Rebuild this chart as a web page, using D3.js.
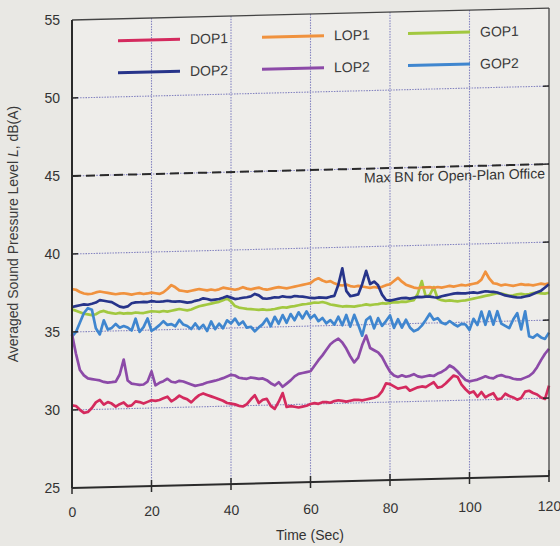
<!DOCTYPE html>
<html>
<head>
<meta charset="utf-8">
<script src="https://cdn.jsdelivr.net/npm/d3@7"></script>
<style>
  html, body { margin: 0; padding: 0; background: #e9e8e4; }
  svg { display: block; font-family: "Liberation Sans", Arial, sans-serif; }
</style>
</head>
<body>
<div id="chart"></div>
<script>
// one sample per second, 0..120 s
const seconds = d3.range(0, 121);

const dop1 = [
  30.3, 30.25, 30.0, 29.8, 29.85, 30.1, 30.45, 30.6, 30.3, 30.45,
  30.35, 30.15, 30.3, 30.4, 30.15, 30.2, 30.45, 30.4, 30.3, 30.4,
  30.5, 30.45, 30.5, 30.6, 30.7, 30.4, 30.55, 30.75, 30.6, 30.5,
  30.3, 30.55, 30.75, 30.85, 30.75, 30.65, 30.55, 30.45, 30.35, 30.2,
  30.15, 30.1, 30.0, 29.95, 30.1, 30.4, 30.65, 30.15, 30.35, 30.4,
  29.95, 29.75, 30.2, 30.75, 29.85, 29.9, 29.85, 29.8, 29.85, 29.9,
  30.0, 30.05, 30.0, 30.1, 30.1, 30.05, 30.15, 30.2, 30.15, 30.1,
  30.15, 30.2, 30.2, 30.15, 30.2, 30.25, 30.3, 30.4, 30.7, 31.2,
  31.15, 31.0, 30.85, 30.9, 30.95, 30.7, 30.8, 30.9, 30.95, 30.9,
  31.05, 31.2, 30.85, 30.9, 31.1, 31.35, 31.6, 31.5, 31.0, 30.7,
  30.45, 30.55, 30.2, 30.5, 30.15, 30.3, 30.4, 30.0, 30.05, 30.35,
  30.2, 30.1, 29.95, 30.05, 30.45, 30.5, 30.35, 30.25, 30.05, 29.95,
  30.8
];
const dop2 = [
  36.6, 36.65, 36.7, 36.75, 36.72, 36.78, 36.85, 37.0, 36.95, 36.9,
  36.85, 36.7, 36.55, 36.5, 36.55, 36.75, 36.8, 36.8, 36.82, 36.8,
  36.85, 36.82, 36.8, 36.82, 36.85, 36.8, 36.78, 36.8, 36.75, 36.7,
  36.72, 36.8, 36.85, 36.95, 36.9, 36.82, 36.85, 36.88, 36.95, 37.05,
  36.95, 36.85, 36.88, 36.92, 36.95, 37.0, 37.15, 37.05, 36.85, 36.82,
  36.85, 36.9, 36.88, 36.95, 36.9, 36.88, 36.95, 36.92, 36.9, 36.85,
  36.8, 36.78, 36.82, 36.8, 36.78, 36.85, 36.9, 37.6, 38.65, 37.2,
  36.85, 36.9, 36.95, 37.6, 38.45, 37.6, 37.75, 37.5, 36.9, 36.55,
  36.5, 36.55, 36.6, 36.65, 36.65, 36.6, 36.65, 36.7, 36.68, 36.7,
  36.7, 36.65, 36.62, 36.7, 36.75, 36.8, 36.85, 36.88, 36.85, 36.85,
  36.88, 36.9, 36.85, 36.9, 36.95, 36.92, 36.9, 36.85, 36.75, 36.65,
  36.6, 36.55, 36.5, 36.5, 36.55, 36.6, 36.7, 36.8, 36.9, 37.1,
  37.3
];
const lop1 = [
  37.75, 37.7, 37.55, 37.45, 37.4, 37.42, 37.5, 37.55, 37.5, 37.45,
  37.4, 37.35, 37.38, 37.4, 37.35, 37.3, 37.35, 37.38, 37.32, 37.35,
  37.4, 37.35, 37.3, 37.4, 37.6, 37.85, 37.7, 37.5, 37.45, 37.4,
  37.45, 37.5, 37.55, 37.5, 37.45, 37.5, 37.45, 37.5, 37.6, 37.55,
  37.5, 37.45, 37.5, 37.6, 37.5, 37.45, 37.5, 37.55, 37.45, 37.4,
  37.45, 37.5, 37.55, 37.5, 37.45, 37.5, 37.55, 37.6, 37.65, 37.7,
  37.75, 37.95, 38.05, 37.9, 37.8, 37.85, 37.7, 37.6, 37.55, 37.6,
  37.5, 37.45, 37.5, 37.45, 37.4, 37.35, 37.4, 37.35, 37.4, 37.5,
  37.55, 37.75, 37.95, 37.7, 37.5, 37.4, 37.3, 37.25, 37.3, 37.3,
  37.3, 37.25, 37.3, 37.25, 37.3, 37.35, 37.3, 37.35, 37.4, 37.35,
  37.4, 37.45, 37.5, 37.7, 38.2, 37.75, 37.45, 37.4, 37.3, 37.35,
  37.3, 37.25, 37.3, 37.35, 37.3, 37.3, 37.25, 37.3, 37.35, 37.3,
  37.35
];
const lop2 = [
  34.85, 33.6, 32.55, 32.2, 32.0, 31.95, 31.9, 31.85, 31.75, 31.7,
  31.72, 31.75, 32.2, 33.15, 31.8, 31.6, 31.55, 31.5, 31.52, 31.7,
  32.35, 31.45, 31.6, 31.7, 31.85, 31.65, 31.6, 31.7, 31.65, 31.55,
  31.45, 31.35, 31.4, 31.45, 31.55, 31.6, 31.65, 31.72, 31.8, 31.9,
  32.0, 31.95, 31.8, 31.75, 31.72, 31.8, 31.75, 31.7, 31.72, 31.6,
  31.4, 31.25, 31.45, 31.15, 31.35, 31.55, 31.8, 31.95, 32.0, 32.05,
  32.1, 32.45, 32.8, 33.1, 33.45, 33.8, 34.0, 34.15, 33.9, 33.5,
  33.0, 32.6, 32.9, 33.7, 34.3, 33.5, 33.35, 33.2, 32.9, 32.4,
  31.95, 31.7, 31.6, 31.7, 31.6, 31.65, 31.75, 31.6, 31.55, 31.6,
  31.65, 31.6, 31.75, 31.85, 32.0, 32.25, 32.1, 31.85, 31.55, 31.3,
  31.2, 31.25, 31.3, 31.4, 31.5, 31.4, 31.35, 31.5, 31.55, 31.45,
  31.4, 31.3, 31.25, 31.25, 31.35, 31.45, 31.65, 32.0, 32.45, 32.85,
  33.15
];
const gop1 = [
  36.45, 36.35, 36.25, 36.15, 36.1, 36.05, 36.1, 36.25, 36.3, 36.2,
  36.15, 36.1, 36.15, 36.1, 36.12, 36.1, 36.15, 36.12, 36.1, 36.15,
  36.2, 36.18, 36.15, 36.2, 36.15, 36.2, 36.25, 36.3, 36.25, 36.2,
  36.25, 36.35, 36.45, 36.5, 36.55, 36.6, 36.65, 36.7, 36.8, 36.9,
  36.7, 36.4, 36.3, 36.25, 36.2, 36.18, 36.15, 36.12, 36.15, 36.1,
  36.12, 36.15, 36.2, 36.25, 36.22, 36.28, 36.3, 36.35, 36.4, 36.42,
  36.45, 36.5, 36.48, 36.52, 36.45, 36.35, 36.3, 36.25, 36.2, 36.22,
  36.2, 36.18, 36.22, 36.25, 36.3, 36.25, 36.28, 36.3, 36.35, 36.32,
  36.35, 36.4, 36.38, 36.42, 36.4, 36.45, 36.5, 36.9, 37.7, 36.7,
  36.8, 37.3, 36.55, 36.45, 36.4, 36.42, 36.38, 36.35, 36.38, 36.4,
  36.45, 36.5, 36.55, 36.6, 36.65, 36.7, 36.75, 36.8, 36.78, 36.7,
  36.62, 36.65, 36.7, 36.72, 36.68, 36.7, 36.75, 36.78, 36.72, 36.7,
  36.75
];
const gop2 = [
  34.7, 35.0, 35.6, 36.2, 36.5, 36.4, 35.2, 34.8, 35.7, 35.1,
  35.2, 35.45, 35.2, 35.3, 35.2, 35.0, 35.75, 34.9, 35.2, 35.75,
  34.95, 35.1, 35.3, 35.55, 35.3, 35.35, 35.2, 35.6, 35.3, 35.2,
  35.0, 35.35, 35.0, 35.25, 34.85, 35.45, 34.95, 35.3, 35.0, 35.5,
  35.3, 35.6, 35.2, 35.4, 35.0, 35.05, 34.75, 35.0, 35.2, 35.55,
  35.05, 35.65, 35.2, 35.75, 35.25, 35.8, 35.4, 35.9, 35.5, 35.95,
  35.5, 35.7, 35.3, 35.5, 35.15, 35.35, 35.05, 35.55, 35.0, 35.65,
  34.9, 35.65, 35.0, 34.3, 35.3, 35.5, 34.75, 35.4, 34.9, 35.2,
  35.55, 34.75, 35.3, 34.75, 35.25, 34.75, 34.5, 34.6, 34.85, 35.2,
  35.6, 35.2, 35.3, 35.0, 34.9, 35.1, 34.9, 34.75, 34.9, 34.85,
  34.5, 35.2, 34.8, 35.65, 34.8, 35.65, 34.8, 35.65, 34.85, 34.7,
  34.55, 35.1, 35.5, 34.45, 35.6, 34.0, 33.9, 34.1, 33.9, 33.8,
  34.2
];

const seriesNames = ["DOP1", "DOP2", "LOP1", "LOP2", "GOP1", "GOP2"];
const seriesValues = [dop1, dop2, lop1, lop2, gop1, gop2];
const seriesColors = ["#d42a5e", "#27348a", "#f0923e", "#8c4aa8", "#a2c840", "#3f86cf"];
const drawOrder = ["GOP1", "GOP2", "LOP1", "LOP2", "DOP2", "DOP1"];

const xTicks = [0, 20, 40, 60, 80, 100, 120];
const yTicks = [25, 30, 35, 40, 45, 50, 55];
const maxBN = 45;
const maxBNLabel = "Max BN for Open-Plan Office";
const xTitle = "Time (Sec)";

const width = 560, height = 546;
const svg = d3.select("#chart").append("svg")
  .attr("width", width)
  .attr("height", height);

svg.append("rect").attr("width", width).attr("height", height).attr("fill", "#e9e8e4");

const x = d3.scaleLinear().domain([0, 120]).range([72, 549]);
const y = d3.scaleLinear().domain([25, 55]).range([488, 20]);

// the scanned figure is tilted a little: right side sits higher
const plot = svg.append("g")
  .attr("transform", `translate(0,${x(0) * 0.025}) skewY(-1.43)`);

plot.append("rect")
  .attr("x", x(0)).attr("y", y(55))
  .attr("width", x(120) - x(0)).attr("height", y(25) - y(55))
  .attr("fill", "#eeedea");

// dotted grid
plot.selectAll(".vgrid")
  .data(xTicks.slice(1, -1))
  .enter().append("line")
  .attr("x1", d => x(d)).attr("x2", d => x(d))
  .attr("y1", y(55)).attr("y2", y(25))
  .attr("stroke", "#8484c0").attr("stroke-width", 1.1)
  .attr("stroke-dasharray", "1.5,1.2");

plot.selectAll(".hgrid")
  .data(yTicks.slice(1, -1))
  .enter().append("line")
  .attr("x1", x(0)).attr("x2", x(120))
  .attr("y1", d => y(d)).attr("y2", d => y(d))
  .attr("stroke", "#8484c0").attr("stroke-width", 1.1)
  .attr("stroke-dasharray", "1.5,1.2");

// max background noise reference
plot.append("line")
  .attr("x1", x(0)).attr("x2", x(120))
  .attr("y1", y(maxBN)).attr("y2", y(maxBN))
  .attr("stroke", "#2a2a2a").attr("stroke-width", 2)
  .attr("stroke-dasharray", "9,5");

plot.append("text")
  .attr("x", x(120) - 4).attr("y", y(maxBN) + 14)
  .attr("text-anchor", "end")
  .attr("font-size", 14).attr("fill", "#333")
  .text(maxBNLabel);

const line = d3.line()
  .x((d, i) => x(seconds[i]))
  .y(d => y(d));

drawOrder.forEach(name => {
  const i = seriesNames.indexOf(name);
  plot.append("path")
    .datum(seriesValues[i])
    .attr("fill", "none")
    .attr("stroke", seriesColors[i])
    .attr("stroke-width", 2.7)
    .attr("stroke-linejoin", "round")
    .attr("d", line);
});

// frame
plot.append("line").attr("x1", x(0)).attr("x2", x(120)).attr("y1", y(55)).attr("y2", y(55))
  .attr("stroke", "#444").attr("stroke-width", 1.3);
plot.append("line").attr("x1", x(120)).attr("x2", x(120)).attr("y1", y(55)).attr("y2", y(25))
  .attr("stroke", "#444").attr("stroke-width", 1.3);
plot.append("line").attr("x1", x(0)).attr("x2", x(0)).attr("y1", y(55)).attr("y2", y(25))
  .attr("stroke", "#2b2b2b").attr("stroke-width", 2);
plot.append("line").attr("x1", x(0)).attr("x2", x(120)).attr("y1", y(25)).attr("y2", y(25))
  .attr("stroke", "#2b2b2b").attr("stroke-width", 2);

// ticks: y inward on both sides, x crossing the axis
plot.selectAll(".ytickL")
  .data(yTicks.slice(1, -1))
  .enter().append("line")
  .attr("x1", x(0)).attr("x2", x(0) + 6)
  .attr("y1", d => y(d)).attr("y2", d => y(d))
  .attr("stroke", "#2b2b2b").attr("stroke-width", 1.5);
plot.selectAll(".ytickR")
  .data(yTicks.slice(1, -1))
  .enter().append("line")
  .attr("x1", x(120) - 6).attr("x2", x(120))
  .attr("y1", d => y(d)).attr("y2", d => y(d))
  .attr("stroke", "#2b2b2b").attr("stroke-width", 1.5);
plot.selectAll(".xtick")
  .data(xTicks)
  .enter().append("line")
  .attr("x1", d => x(d)).attr("x2", d => x(d))
  .attr("y1", y(25) - 6).attr("y2", y(25) + 6)
  .attr("stroke", "#2b2b2b").attr("stroke-width", 1.5);

// legend: three columns, two rows
const legendCols = [118, 262, 408];
const legendRows = [42, 74];
const legend = plot.selectAll(".legend")
  .data(seriesNames)
  .enter().append("g")
  .attr("transform", (d, i) => `translate(${legendCols[Math.floor(i / 2)]},${legendRows[i % 2]})`);
legend.append("line")
  .attr("x1", 0).attr("x2", 62)
  .attr("stroke", (d, i) => seriesColors[i])
  .attr("stroke-width", 3);
legend.append("text")
  .attr("x", 72).attr("dy", "0.35em")
  .attr("font-size", 14).attr("fill", "#3a3a3a")
  .text(d => d);

// tick labels
const yAxis = svg.append("g")
  .attr("transform", `translate(${x(0)},0)`)
  .call(d3.axisLeft(y).tickValues(yTicks).tickSize(0).tickPadding(12));
yAxis.select(".domain").remove();
yAxis.selectAll("text").attr("font-size", 14).attr("fill", "#333")
  .attr("font-family", "Liberation Sans, Arial, sans-serif");

const xLab = svg.append("g")
  .attr("transform", `translate(0,${x(0) * 0.0126}) skewY(-0.72)`)
  .append("g")
  .attr("transform", `translate(0,${y(25)})`)
  .call(d3.axisBottom(x).tickValues(xTicks).tickSize(0).tickPadding(19));
xLab.select(".domain").remove();
xLab.selectAll("text").attr("font-size", 14).attr("fill", "#333")
  .attr("font-family", "Liberation Sans, Arial, sans-serif");

svg.append("text")
  .attr("x", 310).attr("y", 540)
  .attr("text-anchor", "middle")
  .attr("font-size", 14).attr("fill", "#333")
  .text(xTitle);

const yTitle = svg.append("text")
  .attr("transform", "translate(18,234) rotate(-90)")
  .attr("text-anchor", "middle")
  .attr("font-size", 14).attr("fill", "#3a3a3a");
yTitle.append("tspan").text("Averaged Sound Pressure Level ");
yTitle.append("tspan").attr("font-style", "italic").text("L");
yTitle.append("tspan").text(", dB(A)");
</script>
</body>
</html>
